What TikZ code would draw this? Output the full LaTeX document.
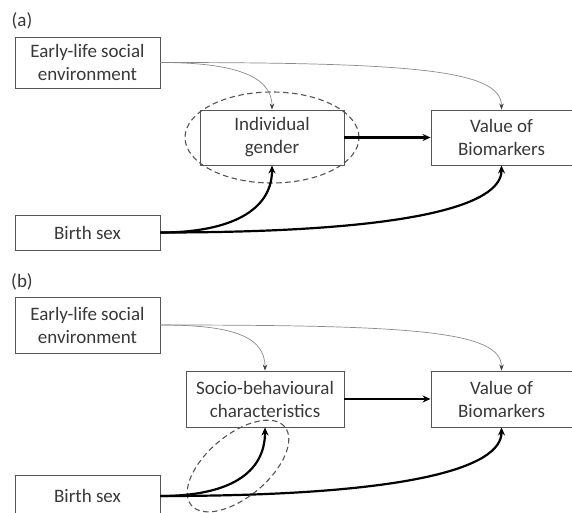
\documentclass[tikz,border=0pt]{standalone}
\usepackage{fontspec}
\setmainfont{Carlito}
\usetikzlibrary{arrows.meta,shapes.geometric}
\definecolor{boxc}{HTML}{555555}
\definecolor{txt}{HTML}{383838}
\definecolor{thin}{HTML}{8A8A8A}
\begin{document}
\begin{tikzpicture}[x=1pt,y=-1pt,
  box/.style={draw=boxc,line width=0.9pt,inner sep=0pt,align=center,text=txt,
    font=\fontsize{19}{23}\selectfont},
  thinarr/.style={draw=thin,line width=0.7pt,-{Stealth[length=6pt,width=4.5pt,color=black!75]}},
  thickarr/.style={draw=black,line width=2.2pt,-{Stealth[length=8pt,width=7pt]}},
  dashell/.style={draw=boxc,line width=1.1pt,dash pattern=on 5.5pt off 3.5pt},
  lab/.style={text=txt,font=\fontsize{19}{20}\selectfont,inner sep=0pt}]
\useasboundingbox (0,0) rectangle (572,513);
% panel (a)
\node[lab] (la) at (22,21) {(a)};
\node[box,minimum width=145pt,minimum height=51pt] (ea) at (87.5,62.5) {Early-life social\\environment};
\node[box,minimum width=144pt,minimum height=55pt] (ga) at (272,137.5) {Individual\\gender};
\node[box,minimum width=141pt,minimum height=55pt] (va) at (501.5,137.5) {Value of\\Biomarkers};
\node[box,minimum width=145pt,minimum height=35pt] (ba) at (87.5,232.5) {Birth sex};
\node[dashell,ellipse,minimum width=174pt,minimum height=91pt] (ella) at (272,137.5) {};
\draw[thinarr] (ea.east) .. controls +(70,0) and +(0,-35) .. (ga.north);
\draw[thinarr] (ea.east) .. controls +(250,0) and +(0,-40) .. (va.north);
\draw[thickarr] (ga.east) -- (va.west);
\draw[thickarr] (ba.east) .. controls +(70,0) and +(0,45) .. (ga.south);
\draw[thickarr] (ba.east) .. controls +(250,0) and +(0,40) .. (va.south);
% panel (b)
\node[lab] (lb) at (22,282) {(b)};
\node[box,minimum width=145pt,minimum height=56pt] (eb) at (87.5,325) {Early-life social\\environment};
\node[box,minimum width=158pt,minimum height=56pt] (sb) at (265,399) {Socio-behavioural\\characteristics};
\node[box,minimum width=141pt,minimum height=56pt] (vb) at (501.5,399) {Value of\\Biomarkers};
\node[box,minimum width=145pt,minimum height=42pt] (bb) at (87.5,496) {Birth sex};
\node[dashell,ellipse,rotate=40,minimum width=122pt,minimum height=62pt] (ellb) at (238,466) {};
\draw[thinarr] (eb.east) .. controls +(70,0) and +(0,-35) .. (sb.north);
\draw[thinarr] (eb.east) .. controls +(250,0) and +(0,-40) .. (vb.north);
\draw[thickarr] (sb.east) -- (vb.west);
\draw[thickarr] (bb.east) .. controls +(70,0) and +(0,45) .. (sb.south);
\draw[thickarr] (bb.east) .. controls +(250,0) and +(0,40) .. (vb.south);
\end{tikzpicture}
\end{document}
